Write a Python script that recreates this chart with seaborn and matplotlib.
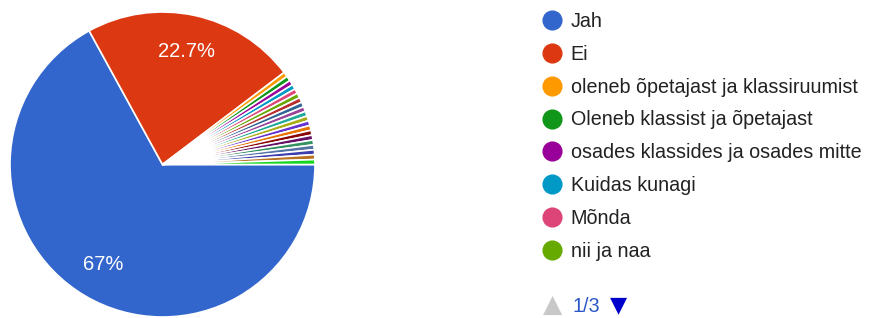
import matplotlib
matplotlib.use('Agg')
import matplotlib.pyplot as plt
import seaborn as sns
from matplotlib.lines import Line2D

sns.set_style('white')
plt.rcParams['font.family'] = ['Liberation Sans', 'DejaVu Sans']

# --- Datos ---
# vastuste arv (194 vastust kokku)
nimed = ['Jah', 'Ei', 'oleneb õpetajast ja klassiruumist',
         'Oleneb klassist ja õpetajast', 'osades klassides ja osades mitte',
         'Kuidas kunagi', 'Mõnda', 'nii ja naa']
vastused = [130, 44, 1, 1, 1, 1, 1, 1]
# ülejäänud üksikvastused (legendi lehtedel 2 ja 3)
muud_vastused = [1] * 14

# Google Forms värvid
varvid = ['#3366cc', '#dc3912', '#ff9900', '#109618', '#990099', '#0099c6',
          '#dd4477', '#66aa00', '#b82e2e', '#316395', '#994499', '#22aa99',
          '#aaaa11', '#6633cc', '#e67300', '#8b0707', '#651067', '#329262',
          '#5574a6', '#3b3eac', '#b77322', '#16d620', '#b91383']

koik = vastused + muud_vastused
palett = sns.color_palette(varvid[:len(koik)])


def protsent(p):
    if p < 5:
        return ''
    s = f'{p:.1f}'
    if s.endswith('.0'):
        s = s[:-2]
    return s + '%'


fig = plt.figure(figsize=(8.72, 3.18), dpi=100)
ax = fig.add_axes([10 / 872, 1 / 318, 305 / 872, 305 / 318])
wedges, texts, autotexts = ax.pie(
    koik, colors=palett, startangle=0, counterclock=False,
    autopct=protsent, pctdistance=0.76,
    wedgeprops=dict(edgecolor='white', linewidth=1.2),
    textprops=dict(color='white', fontsize=14.5))
ax.set_xlim(-1, 1)
ax.set_ylim(-1, 1)
ax.set_aspect('equal')
ax.axis('off')

# legend (leht 1/3)
kasitsejad = [Line2D([0], [0], marker='o', linestyle='', markersize=13.5,
                     markerfacecolor=palett[i], markeredgecolor=palett[i])
              for i in range(len(nimed))]
fig.legend(kasitsejad, nimed, loc='upper left', bbox_to_anchor=(542 / 872, 1 - 12 / 318),
           frameon=False, fontsize=14.2, labelspacing=0.70, handletextpad=0.45,
           handlelength=1.0, borderpad=0, borderaxespad=0, labelcolor='#222222')

# lehekülje näidik
fig.text(553 / 872, 1 - 305 / 318, '▲', color='#c8c8c8', fontsize=18,
         ha='center', va='center', family='DejaVu Sans')
fig.text(572 / 872, 1 - 306 / 318, '1/3', color='#2a56c6', fontsize=14.2,
         ha='left', va='center')
fig.text(618 / 872, 1 - 305 / 318, '▼', color='#0000cc', fontsize=16,
         ha='center', va='center', family='DejaVu Sans')

fig.savefig('out.png', dpi=100)
